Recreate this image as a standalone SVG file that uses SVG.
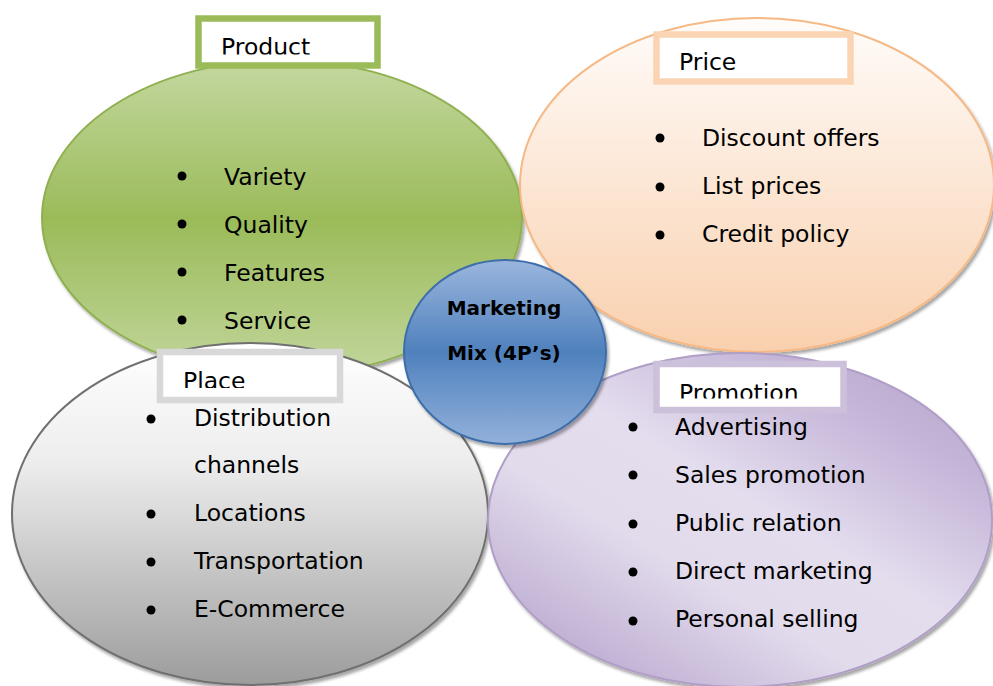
<svg xmlns="http://www.w3.org/2000/svg" width="993" height="686" viewBox="0 0 993 686">
<style>
.t{font-family:"DejaVu Sans",Verdana,sans-serif;font-size:23.5px;fill:#000}
.c{font-family:"DejaVu Sans",Verdana,sans-serif;font-size:20px;font-weight:bold;fill:#000;text-anchor:middle}
.box{fill:#fff;stroke-width:6.5}
</style>
<defs>
<filter id="sh" x="-10%" y="-10%" width="125%" height="130%"><feDropShadow dx="2" dy="3" stdDeviation="1.8" flood-color="#000" flood-opacity="0.35"/></filter>
<linearGradient id="gGreen" x1="0" y1="0" x2="0" y2="1"><stop offset="0" stop-color="#c4d8a0"/><stop offset="0.5" stop-color="#9bbb59"/><stop offset="1" stop-color="#c2d69c"/></linearGradient>
<linearGradient id="gPrice" x1="0" y1="0" x2="0" y2="1"><stop offset="0" stop-color="#fffcfa"/><stop offset="1" stop-color="#f9d0ae"/></linearGradient>
<linearGradient id="gPlace" x1="0" y1="0" x2="0" y2="1"><stop offset="0" stop-color="#ffffff"/><stop offset="0.35" stop-color="#ededed"/><stop offset="1" stop-color="#9c9c9c"/></linearGradient>
<linearGradient id="gPromo" x1="0.1" y1="0.95" x2="0.9" y2="0.05"><stop offset="0" stop-color="#b7a5cd"/><stop offset="0.35" stop-color="#e2dbec"/><stop offset="0.55" stop-color="#e4ddee"/><stop offset="0.8" stop-color="#c8badb"/><stop offset="1" stop-color="#b8a6cd"/></linearGradient>
<linearGradient id="gBlue" x1="0" y1="0" x2="0" y2="1"><stop offset="0" stop-color="#9ab6dd"/><stop offset="0.5" stop-color="#4f81bd"/><stop offset="1" stop-color="#92b1db"/></linearGradient>
<clipPath id="cProduct"><rect x="200" y="20" width="176" height="34.5"/></clipPath>
<clipPath id="cPlace"><rect x="162" y="353" width="176" height="35"/></clipPath>
<clipPath id="cPromo"><rect x="660" y="367" width="180" height="31.5"/></clipPath>
</defs>
<g id="connectors"></g>
<g id="product">
<ellipse cx="282" cy="218" rx="240" ry="158" fill="url(#gGreen)" stroke="#8fb04f" stroke-width="2" filter="url(#sh)"/>
<rect class="box" x="198.5" y="18.5" width="179" height="47" stroke="#9bbb59"/>
<text class="t" x="221" y="54.5" clip-path="url(#cProduct)">Product</text>
<g fill="#000"><circle cx="182" cy="176" r="4.5"/><circle cx="182" cy="224" r="4.5"/><circle cx="182" cy="272" r="4.5"/><circle cx="182" cy="320" r="4.5"/></g>
<text class="t" x="224" y="185">Variety</text>
<text class="t" x="224" y="233">Quality</text>
<text class="t" x="224" y="281">Features</text>
<text class="t" x="224" y="329">Service</text>
</g>
<g id="price">
<ellipse cx="757" cy="185" rx="237" ry="167" fill="url(#gPrice)" stroke="#f6b985" stroke-width="2" filter="url(#sh)"/>
<rect class="box" x="656.5" y="34.5" width="194" height="47" stroke="#fbd4b4"/>
<text class="t" x="679" y="70">Price</text>
<g fill="#000"><circle cx="660" cy="138" r="4.5"/><circle cx="660" cy="187" r="4.5"/><circle cx="660" cy="235" r="4.5"/></g>
<text class="t" x="702" y="146">Discount offers</text>
<text class="t" x="702" y="194">List prices</text>
<text class="t" x="702" y="242">Credit policy</text>
</g>
<g id="place">
<ellipse cx="250" cy="514" rx="238" ry="171" fill="url(#gPlace)" stroke="#6f6f6f" stroke-width="2" filter="url(#sh)"/>
<rect class="box" x="160" y="352" width="180" height="48" stroke="#d8d8d8"/>
<text class="t" x="183" y="389" clip-path="url(#cPlace)">Place</text>
<g fill="#000"><circle cx="151" cy="419" r="4.5"/><circle cx="151" cy="514" r="4.5"/><circle cx="151" cy="562" r="4.5"/><circle cx="151" cy="610" r="4.5"/></g>
<text class="t" x="194" y="426">Distribution</text>
<text class="t" x="194" y="473">channels</text>
<text class="t" x="194" y="521">Locations</text>
<text class="t" x="194" y="569">Transportation</text>
<text class="t" x="194" y="617">E-Commerce</text>
</g>
<g id="promotion">
<ellipse cx="740" cy="520" rx="252" ry="167" fill="url(#gPromo)" stroke="#b09ec6" stroke-width="2" filter="url(#sh)"/>
<rect class="box" x="656.5" y="364" width="187" height="46" stroke="#ccc0da"/>
<text class="t" x="679" y="401" clip-path="url(#cPromo)">Promotion</text>
<g fill="#000"><circle cx="633" cy="427" r="4.5"/><circle cx="633" cy="475" r="4.5"/><circle cx="633" cy="524" r="4.5"/><circle cx="633" cy="572" r="4.5"/><circle cx="633" cy="621" r="4.5"/></g>
<text class="t" x="675" y="435">Advertising</text>
<text class="t" x="675" y="483">Sales promotion</text>
<text class="t" x="675" y="531">Public relation</text>
<text class="t" x="675" y="579">Direct marketing</text>
<text class="t" x="675" y="627">Personal selling</text>
</g>
<g id="center">
<ellipse cx="505" cy="352" rx="101" ry="92" fill="url(#gBlue)" stroke="#3e6ea9" stroke-width="2" filter="url(#sh)"/>
<text class="c" x="504" y="315">Marketing</text>
<text class="c" x="504" y="360">Mix (4P’s)</text>
</g>
</svg>
